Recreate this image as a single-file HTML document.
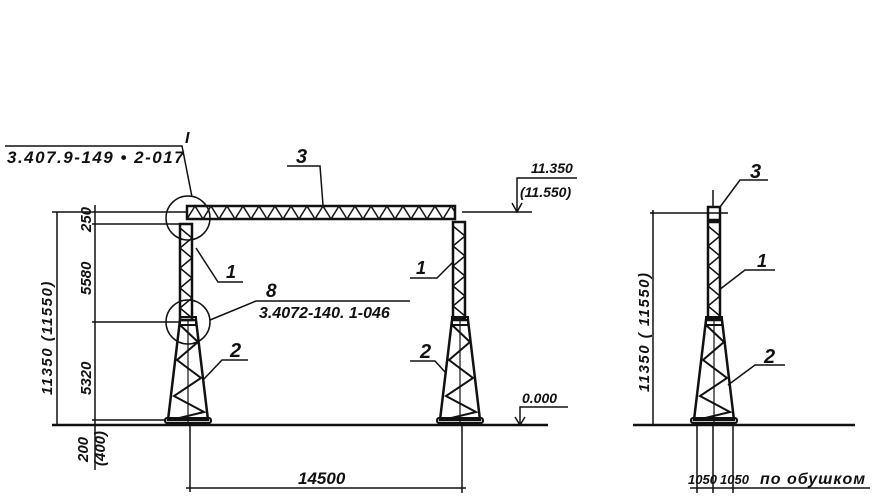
<!DOCTYPE html>
<html><head><meta charset="utf-8"><style>
html,body{margin:0;padding:0;background:#fff;}
svg{display:block;}
text{font-family:"Liberation Sans",sans-serif;font-style:italic;font-weight:bold;fill:#111;}
</style></head><body>
<svg width="875" height="500" viewBox="0 0 875 500" xmlns="http://www.w3.org/2000/svg">
<defs>
<g id="upper">
 <rect x="-6" y="0" width="12" height="96" fill="none" stroke="#111" stroke-width="2.5"/>
 <polyline points="-6,4 6,14 -6,24 6,34 -6,44 6,54 -6,64 6,74 -6,84 6,94" fill="none" stroke="#111" stroke-width="1.5"/>
</g>
<g id="lower">
 <polygon points="-8,0 8,0 20,100 -20,100" fill="none" stroke="#111" stroke-width="2.5"/>
 <polyline points="-8,5 10,22 -11,40 13,58 -14,76 16,92 -17,100" fill="none" stroke="#111" stroke-width="2"/>
 <line x1="0" y1="0" x2="0" y2="102" stroke="#111" stroke-width="1.2"/>
 <rect x="-8" y="-3" width="16" height="8" fill="none" stroke="#111" stroke-width="2"/>
 <rect x="-23" y="98" width="46" height="5" rx="2" fill="none" stroke="#111" stroke-width="2"/>
</g>
</defs>
<g stroke="#111" fill="none" stroke-width="1.5">
 <line x1="52" y1="425" x2="548" y2="425" stroke-width="2.5"/>
 <line x1="633" y1="425" x2="855" y2="425" stroke-width="2.5"/>
 <rect x="187" y="206" width="268" height="13" stroke-width="2.5"/>
 <polyline points="187,219 195,206 203,219 211,206 219,219 227,206 235,219 243,206 251,219 259,206 267,219 275,206 283,219 291,206 299,219 307,206 315,219 323,206 331,219 339,206 347,219 355,206 363,219 371,206 379,219 387,206 395,219 403,206 411,219 419,206 427,219 435,206 443,219 451,206 455,212"/>
 <line x1="57" y1="212" x2="57" y2="426"/>
 <line x1="52" y1="212" x2="187" y2="212"/>
 <line x1="95" y1="205" x2="95" y2="470"/>
 <line x1="92" y1="224" x2="180" y2="224"/>
 <line x1="92" y1="322" x2="180" y2="322"/>
 <line x1="92" y1="420" x2="165" y2="420"/>
 <circle cx="188" cy="218" r="22"/>
 <circle cx="188" cy="322" r="22"/>
 <polyline points="5,146 182,146 192,197"/>
 <polyline points="287,166 320,166 323,205"/>
 <polyline points="243,282 218,282 196,248"/>
 <polyline points="410,278 437,278 453,262"/>
 <polyline points="410,301 256,301 210,320"/>
 <polyline points="248,360 222,360 203,380"/>
 <polyline points="410,361 435,361 445,372"/>
 <line x1="462" y1="212" x2="532" y2="212"/>
 <polyline points="517,212 517,178 577,178"/>
 <polyline points="512,203 517,212 522,203"/>
 <polyline points="520,425 520,407 568,407"/>
 <polyline points="515,417 520,425 525,417"/>
 <line x1="190" y1="425" x2="190" y2="492"/>
 <line x1="462" y1="425" x2="462" y2="493"/>
 <line x1="186" y1="488" x2="466" y2="488"/>
 <line x1="653" y1="210" x2="653" y2="426"/>
 <line x1="650" y1="213" x2="728" y2="213"/>
 <line x1="713" y1="190" x2="713" y2="207"/>
 <polyline points="768,180 740,180 720,207"/>
 <polyline points="775,270 745,270 719,290"/>
 <polyline points="785,365 755,365 728,385"/>
 <line x1="697" y1="425" x2="697" y2="493"/>
 <line x1="713" y1="425" x2="713" y2="493"/>
 <line x1="733" y1="425" x2="733" y2="493"/>
 <line x1="690" y1="488" x2="870" y2="488"/>
</g>
<use href="#upper" x="186" y="224"/>
<use href="#lower" x="188" y="320"/>
<use href="#upper" x="459" y="222"/>
<use href="#lower" x="460" y="320"/>
<rect x="708" y="207" width="12" height="13" fill="none" stroke="#111" stroke-width="2.5"/>
<use href="#upper" x="714" y="222"/>
<use href="#lower" x="714" y="320"/>
<text x="185" y="143" font-size="16">I</text>
<text x="7" y="163" font-size="17" letter-spacing="1.5">3.407.9-149 • 2-017</text>
<text x="296" y="163" font-size="20">3</text>
<text x="531" y="173" font-size="14">11.350</text>
<text x="520" y="197" font-size="14">(11.550)</text>
<text x="226" y="278" font-size="18">1</text>
<text x="416" y="274" font-size="18">1</text>
<text x="266" y="297" font-size="19">8</text>
<text x="259" y="318" font-size="16">3.4072-140. 1-046</text>
<text x="230" y="357" font-size="20">2</text>
<text x="420" y="358" font-size="20">2</text>
<text x="522" y="403" font-size="14">0.000</text>
<text x="298" y="484" font-size="17">14500</text>
<text x="750" y="178" font-size="20">3</text>
<text x="757" y="267" font-size="18">1</text>
<text x="764" y="363" font-size="20">2</text>
<text x="688" y="484" font-size="13">1050</text>
<text x="720" y="484" font-size="13">1050</text>
<text x="760" y="484" font-size="16" letter-spacing="1">по обушком</text>
<g font-size="15">
<text transform="translate(52,395) rotate(-90)" letter-spacing="1.5">11350 (11550)</text>
<text transform="translate(91,232) rotate(-90)">250</text>
<text transform="translate(91,295) rotate(-90)">5580</text>
<text transform="translate(91,395) rotate(-90)">5320</text>
<text transform="translate(88,462) rotate(-90)">200</text>
<text transform="translate(105,466) rotate(-90)">(400)</text>
<text transform="translate(649,392) rotate(-90)" letter-spacing="1.5">11350 ( 11550)</text>
</g>
</svg>
</body></html>
